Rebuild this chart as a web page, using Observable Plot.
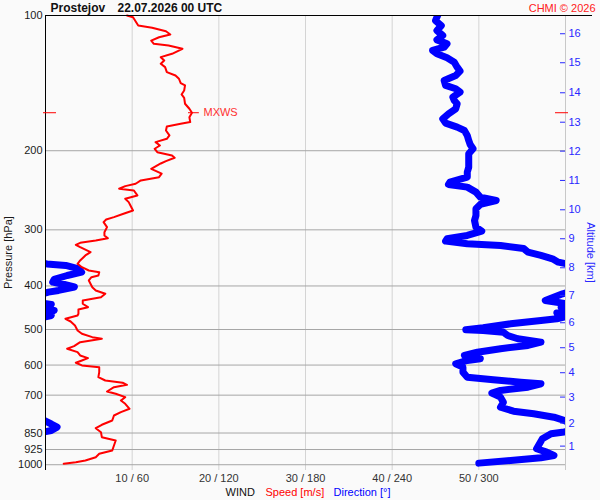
<!DOCTYPE html>
<html><head><meta charset="utf-8">
<script src="https://cdn.jsdelivr.net/npm/d3@7"></script>
<script src="https://cdn.jsdelivr.net/npm/@observablehq/plot@0.6"></script>
<style>body{margin:0;background:#fafafa}</style>
</head><body><div id="chart"></div>
<script>
const pressureTicks = [100,200,300,400,500,600,700,850,925,1000];
const gridPressures = [200,300,400,500,600,700,850,925,1000];
const speedTicks = [10,20,30,40,50];
const speedTickLabels = ["10 / 60","20 / 120","30 / 180","40 / 240","50 / 300"];
const altKm = [1,2,3,4,5,6,7,8,9,10,11,12,13,14,15,16];
const altPressure = [909,807.5,707,624,549,483,419.8,364.4,314,270.7,232.9,200.4,172.8,148.6,127.4,109.8];

const speedP = [100,100.9,105.3,106.5,108.4,110.2,111.8,113.7,115.6,116.6,118.6,121.7,123.8,125.9,128.1,130.3,133.7,136.0,138.3,141.5,143.1,146.9,149.9,152.5,157.2,161.3,164.6,168.4,172.7,174.2,176.6,180.3,184.9,188.1,191.4,194.7,198.0,201.5,204.9,207.3,211.0,213.5,219.4,225.0,229.0,232.9,236.9,239.8,243.0,245.2,251.5,255.8,260.3,264.7,271.6,276.3,281.1,284.5,288.4,295.9,303.6,308.8,313.1,316.8,320.6,323.9,327.9,336.4,342.1,351.0,357.0,363.3,369.5,372.7,379.1,382.4,388.9,402.5,409.3,416.3,423.7,430.9,438.2,446.0,451.2,461.3,465.3,473.3,479.9,489.8,502.5,511.1,520.0,524.3,533.5,544.6,551.8,561.6,571.1,579.1,586.0,592.9,601.2,606.5,622.2,638.4,649.3,657.0,663.8,672.0,687.0,695.1,707.3,719.4,731.7,750.7,763.9,776.9,797.0,814.8,829.1,846.3,868.3,883.1,906.0,929.5,945.4,962.0,978.2,986.8,994.9];
const speedMs = [9.4,10.1,10.7,12.3,13.9,14.4,13.1,12.2,12.5,14.2,15.8,14.6,13.3,13.7,13.3,13.8,14.0,15.0,15.4,15.6,16.1,16.0,15.7,16.0,16.1,16.6,16.9,16.6,16.7,15.6,14.0,13.9,14.3,14.0,12.7,13.2,12.6,12.9,14.6,14.9,13.9,13.3,12.2,13.4,13.1,11.0,10.4,9.2,8.5,10.2,10.6,9.2,9.6,9.8,10.1,9.0,7.9,7.0,6.7,7.1,6.8,6.8,7.2,5.8,4.0,3.5,4.0,5.2,4.6,4.0,3.7,4.2,5.0,6.2,6.1,5.3,5.0,5.4,5.8,6.9,6.4,4.3,4.3,4.9,3.8,3.8,3.7,2.3,2.9,3.4,3.7,4.2,5.4,6.5,4.0,3.3,2.5,3.7,4.0,4.9,4.2,3.5,4.2,6.2,6.2,6.1,6.9,8.9,9.4,7.9,7.1,8.1,9.2,8.7,9.2,9.7,8.7,7.9,7.7,6.5,5.8,6.4,6.5,8.1,7.9,7.7,6.2,5.8,4.6,3.5,2.1];

const dirP = [99.1,102.6,105.3,108.0,110.8,113.3,115.6,117.6,119.6,121.7,124.2,127.0,130.3,133.0,136.0,139.5,143.1,145.6,148.1,152.0,154.6,157.2,161.3,165.5,169.8,173.6,177.2,180.3,184.9,189.7,193.7,198.0,203.1,210.2,217.6,223.2,229.0,235.0,237.7,241.0,247.3,253.7,258.1,263.4,269.3,278.7,285.9,295.9,302.1,308.8,314.1,317.9,322.2,325.0,330.1,336.4,342.1,348.0,354.1,357.3,360.1,366.3,372.7,379.1,386.9,392.3,397.0,402.1,409.3,412.9,416.3,430.9,434.7,439.8,446.6,453.6,459.4,465.3,473.3,477.4,485.6,495.6,500.7,502.5,506.9,515.5,524.3,533.5,542.6,551.8,561.6,571.1,580.9,586.0,596.0,606.5,622.2,638.4,647.0,655.0,660.4,672.0,683.4,693.0,707.3,725.7,744.5,759.9,770.2,783.7,797.0,811.5,824.9,839.0,845.5,853.1,875.4,898.2,921.4,937.7,953.7,965.0,978.2,991.8];
const dirDeg = [272,270,274,271,275,271,278,276,268,271,278,283,285,287,284,276,277,284,287,282,283,285,284,279,275,277,285,290,292,293,294,296,293,293,293,292,292,280,279,292,298,301,312,301,298,298,297,298,302,292,278,277,292,315,331,334,343,351,355,361,374,383,385,375,366,365,373,380,369,362,358,346,354,364,357,366,354,364,354,343,322,303,291,303,317,320,327,343,334,315,299,290,301,292,284,289,289,292,310,329,343,334,315,309,315,317,315,324,338,352,359,364,368,364,359,350,344,342,340,347,352,343,322,300];

const mxwsP = 164.6;
const mxwsSpeed = 16.9;

const RED = "#ff0000", BLUE = "#0000ff", BLUE_TXT = "#2828ff";
const speedData = speedP.slice(0, Math.min(speedP.length, speedMs.length)).map((p, i) => ({p, v: speedMs[i]}));
const dirData = dirP.slice(0, Math.min(dirP.length, dirDeg.length)).map((p, i) => ({p, d: dirDeg[i] / 6}));
const dirWrap = dirData.map(o => ({p: o.p, d: o.d - 60}));
const mxws = [{p: mxwsP, v: mxwsSpeed}];
const kmByP = new Map(altPressure.map((p, i) => [p, altKm[i]]));
const labByTick = new Map(speedTicks.map((t, i) => [t, speedTickLabels[i]]));

const chart = Plot.plot({
  width: 600, height: 500,
  marginLeft: 45, marginRight: 35, marginTop: 15, marginBottom: 30,
  style: {background: "#fafafa", fontFamily: "'Liberation Sans', Arial, sans-serif", fontSize: "11px", color: "#1a1a1a"},
  x: {domain: [0, 60], axis: null},
  y: {type: "log", domain: [1030, 100], axis: null},
  marks: [
    Plot.ruleX(speedTicks, {stroke: "#d4d4d4"}),
    Plot.ruleY(gridPressures, {stroke: "#a6a6a6"}),
    Plot.ruleX([60], {stroke: "#c8c8c8"}),
    Plot.line(dirData, {x: "d", y: "p", stroke: BLUE, strokeWidth: 7, strokeLinecap: "round", strokeLinejoin: "round", clip: true}),
    Plot.line(dirWrap, {x: "d", y: "p", stroke: BLUE, strokeWidth: 7, strokeLinecap: "round", strokeLinejoin: "round", clip: true}),
    Plot.line(speedData, {x: "v", y: "p", stroke: RED, strokeWidth: 2}),
    Plot.ruleX([0], {stroke: "black"}),
    Plot.tickY([100], {stroke: "black", insetRight: -27}),
    Plot.tickY(altPressure, {stroke: BLUE_TXT, insetLeft: 515}),
    Plot.tickY(mxws, {y: "p", stroke: RED, insetLeft: -2, insetRight: 509}),
    Plot.tickY(mxws, {y: "p", stroke: RED, insetLeft: 510, insetRight: -3}),
    Plot.ruleY(mxws, {y: "p", x1: d => d.v - 0.4, x2: d => d.v + 0.85, stroke: RED}),
    Plot.text(mxws, {x: "v", y: "p", text: () => "MXWS", dx: 11.5, textAnchor: "start", lineAnchor: "middle", fill: "#ff3030", fontSize: 11}),
    Plot.axisY(pressureTicks, {anchor: "left", tickSize: 0, tickPadding: 3, label: null, color: "#1a1a1a", fontSize: 11, tickFormat: d => String(d)}),
    Plot.axisY(altPressure, {anchor: "right", tickSize: 0, tickPadding: 3, label: null, color: BLUE_TXT, fontSize: 11, tickFormat: d => String(kmByP.get(d))}),
    Plot.axisX(speedTicks, {anchor: "bottom", tickSize: 0, tickPadding: 4, label: null, color: "#333", fontSize: 11, tickFormat: d => labByTick.get(d)}),
    Plot.text(["Pressure [hPa]"], {text: d => d, frameAnchor: "left", rotate: -90, dx: -37.5, dy: 9.5, textAnchor: "middle", lineAnchor: "middle", fill: "#1a1a1a", fontSize: 11}),
    Plot.text(["Altitude [km]"], {text: d => d, frameAnchor: "right", rotate: 90, dx: 25, dy: 9.5, textAnchor: "middle", lineAnchor: "middle", fill: BLUE_TXT, fontSize: 11}),
    Plot.text(["Prostejov"], {text: d => d, frameAnchor: "top-left", textAnchor: "start", lineAnchor: "middle", dx: 5, dy: -7.5, fontWeight: "bold", fontSize: 12, fill: "#111"}),
    Plot.text(["22.07.2026 00 UTC"], {text: d => d, frameAnchor: "top-left", textAnchor: "start", lineAnchor: "middle", dx: 72, dy: -7.5, fontWeight: "bold", fontSize: 12, fill: "#111"}),
    Plot.text(["CHMI © 2026"], {text: d => d, frameAnchor: "top-right", textAnchor: "end", lineAnchor: "middle", dx: 30, dy: -7.5, fill: "#ff2020", fontSize: 11}),
    Plot.text(["WIND"], {text: d => d, frameAnchor: "bottom", textAnchor: "start", lineAnchor: "middle", dx: -80, dy: 21.5, fill: "#111", fontSize: 11}),
    Plot.text(["Speed [m/s]"], {text: d => d, frameAnchor: "bottom", textAnchor: "start", lineAnchor: "middle", dx: -40, dy: 21.5, fill: RED, fontSize: 11}),
    Plot.text(["Direction [°]"], {text: d => d, frameAnchor: "bottom", textAnchor: "start", lineAnchor: "middle", dx: 28, dy: 21.5, fill: BLUE, fontSize: 11})
  ]
});
document.getElementById("chart").appendChild(chart);
</script>
</body></html>
